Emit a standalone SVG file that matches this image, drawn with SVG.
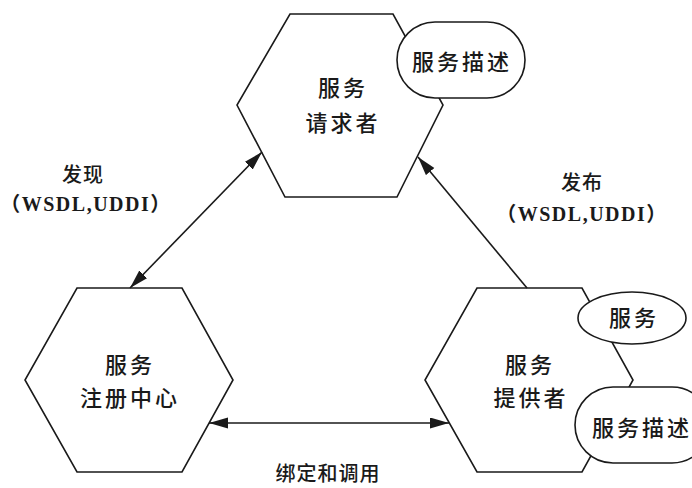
<svg xmlns="http://www.w3.org/2000/svg" width="692" height="488" viewBox="0 0 692 488">
<defs>
<style>
.hex{fill:#fff;stroke:#1a1a1a;stroke-width:1.6}
.bub{fill:#fff;stroke:#1a1a1a;stroke-width:1.6}
.t{font-family:"Liberation Serif","Noto Sans CJK SC",serif;font-size:22px;fill:#1a1a1a;text-anchor:middle;letter-spacing:3px;font-weight:500}
.l{font-family:"Liberation Serif","Noto Sans CJK SC",serif;font-size:20px;fill:#1a1a1a;text-anchor:middle;font-weight:bold;letter-spacing:1.5px}
.lc{font-family:"Noto Sans CJK SC",sans-serif;font-size:20px;fill:#1a1a1a;text-anchor:middle;letter-spacing:1px;font-weight:500}
.c{stroke:#1a1a1a;stroke-width:1.6;fill:none}
</style>
<marker id="ah" markerUnits="userSpaceOnUse" markerWidth="22" markerHeight="12" refX="19" refY="5.5" orient="auto-start-reverse">
<path d="M0,0 L19,5.5 L0,11 z" fill="#1a1a1a"/>
</marker>
</defs>
<rect width="692" height="488" fill="#fff"/>

<g id="requester">
<polygon class="hex" points="290,14 393,14 443,105 397,197 285,197 237,105"/>
<text class="t" x="343" y="96">服务</text>
<text class="t" x="343" y="131">请求者</text>
</g>
<g id="requester-desc">
<rect class="bub" x="397" y="22" width="128" height="76" rx="38" ry="38"/>
<text class="t" x="462" y="70">服务描述</text>
</g>

<g id="registry">
<polygon class="hex" points="77,288 182,288 233,380 182,472 77,472 25,380"/>
<text class="t" x="130" y="373">服务</text>
<text class="t" x="130" y="406">注册中心</text>
</g>

<g id="provider">
<polygon class="hex" points="477,288 582,288 633,380 582,472 477,472 425,380"/>
<text class="t" x="530" y="373">服务</text>
<text class="t" x="531" y="406">提供者</text>
</g>
<g id="provider-service">
<ellipse class="bub" cx="632" cy="318" rx="54" ry="26"/>
<text class="t" x="634" y="326">服务</text>
</g>
<g id="provider-desc">
<rect class="bub" x="575" y="387" width="135" height="76" rx="38" ry="38"/>
<text class="t" x="642" y="436">服务描述</text>
</g>

<g id="connectors">
<line class="c" x1="262" y1="152" x2="130" y2="288" marker-start="url(#ah)" marker-end="url(#ah)"/>
<line class="c" x1="527" y1="288" x2="418" y2="157" marker-end="url(#ah)"/>
<line class="c" x1="209" y1="423" x2="449" y2="423" marker-start="url(#ah)" marker-end="url(#ah)"/>
</g>

<g id="labels">
<text class="lc" x="83" y="182">发现</text>
<text class="l" x="86" y="211">（WSDL,UDDI）</text>
<text class="lc" x="582" y="190">发布</text>
<text class="l" x="582" y="221">（WSDL,UDDI）</text>
<text class="lc" x="328" y="481">绑定和调用</text>
</g>
</svg>
